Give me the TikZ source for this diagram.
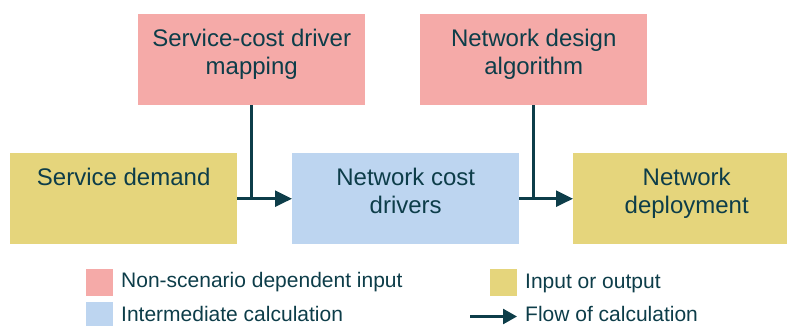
\documentclass[tikz,border=0pt]{standalone}
\usepackage{fontspec}
\setmainfont{Liberation Sans}
\usetikzlibrary{arrows.meta}
\definecolor{fixedin}{HTML}{F5AAA8}
\definecolor{interim}{HTML}{BDD5F0}
\definecolor{inout}{HTML}{E5D57C}
\definecolor{ink}{HTML}{0D3D49}
\begin{document}
\begin{tikzpicture}[x=1pt,y=-1pt,
  box/.style={minimum width=227pt, minimum height=91pt, inner sep=0pt, anchor=north west},
  boxtext/.style={anchor=north, inner sep=0pt, align=center, text=ink,
    font=\fontsize{24}{28}\selectfont},
  link/.style={draw=ink, line width=2.6pt},
  flow/.style={link, -{Triangle[length=17pt,width=16pt]}},
  swatch/.style={minimum size=27pt, inner sep=0pt, anchor=north west},
  legtext/.style={anchor=base west, inner sep=0pt, text=ink,
    font=\fontsize{21}{25}\selectfont},
  legflow/.style={draw=ink, line width=2.6pt, -{Triangle[length=14pt,width=15pt]}}]
\useasboundingbox (0,0) rectangle (787,325);
\clip (0,0) rectangle (787,325);

% boxes
\node[box, fill=fixedin] (map) at (138,14) {};
\node[box, fill=fixedin] (alg) at (420,14) {};
\node[box, fill=inout]   (dem) at (10,153) {};
\node[box, fill=interim] (drv) at (292,153) {};
\node[box, fill=inout]   (dep) at (573,153) {};

% box captions
\node[boxtext] (mapt) at ([yshift=-15pt]map.north) {Service-cost driver\\mapping};
\node[boxtext] (algt) at ([yshift=-15pt]alg.north) {Network design\\algorithm};
\node[boxtext] (demt) at ([yshift=-15pt]dem.north) {Service demand};
\node[boxtext] (drvt) at ([yshift=-15pt]drv.north) {Network cost\\drivers};
\node[boxtext] (dept) at ([yshift=-15pt]dep.north) {Network\\deployment};

% flow of calculation
\draw[link] (map.south) -- (map.south |- dem.east);
\draw[flow] (dem.east) -- (drv.west);
\draw[link] (alg.south) -- (alg.south |- drv.east);
\draw[flow] (drv.east) -- (dep.west);

% legend
\node[swatch, fill=fixedin] (kfix) at (86,269) {};
\node[swatch, fill=interim] (kint) at (86,302) {};
\node[swatch, fill=inout]   (kio)  at (490,269) {};
\node[legtext] (kfixt) at (121,287) {Non-scenario dependent input};
\node[legtext] (kintt) at (121,321) {Intermediate calculation};
\node[legtext] (kiot)  at (525,288) {Input or output};
\node[legtext] (kflt)  at (525,321) {Flow of calculation};
\coordinate (kfa) at (470,316.5);
\coordinate (kfb) at (517,316.5);
\draw[legflow] (kfa) -- (kfb);
\end{tikzpicture}
\end{document}
